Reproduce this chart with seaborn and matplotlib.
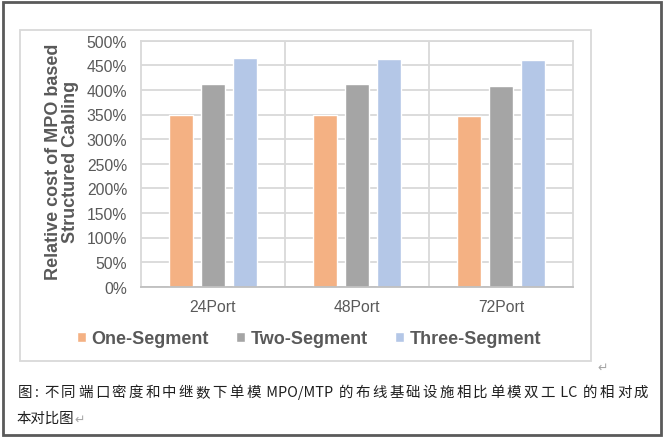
import matplotlib
matplotlib.use("Agg")
import matplotlib.pyplot as plt
from matplotlib.patches import Rectangle
from matplotlib.ticker import PercentFormatter, FixedLocator
import seaborn as sns
import pandas as pd

# ---- data ----
ports = ["24Port", "48Port", "72Port"]
segments = ["One-Segment", "Two-Segment", "Three-Segment"]
one_segment = [350, 350, 347]
two_segment = [411, 411, 408]
three_segment = [465, 462, 460]
colors = ["#F4B183", "#A5A5A5", "#B4C7E7"]
y_label = "Relative cost of MPO based\nStructured Cabling"
caption_line1 = "图: 不同端口密度和中继数下单模 MPO/MTP 的布线基础设施相比单模双工 LC 的相对成"
caption_line2 = "本对比图"

df = pd.DataFrame({
    "port": ports * 3,
    "segment": [s for s in segments for _ in ports],
    "cost": one_segment + two_segment + three_segment,
})

sns.set_theme(style="white")
plt.rcParams["font.family"] = ["Liberation Sans", "DejaVu Sans"]

W, H = 665, 439
fig = plt.figure(figsize=(W / 100, H / 100), dpi=100)

def fx(px):
    return px / W

def fy(py):
    return 1 - py / H

ax = fig.add_axes([fx(141), fy(287.7), fx(573) - fx(141), fy(41.7) - fy(287.7)])

sns.barplot(data=df, x="port", y="cost", hue="segment", hue_order=segments,
            palette=colors, width=0.667, gap=0.25, saturation=1,
            ax=ax, legend=True)

grid_c = "#D9D9D9"
tick_c = "#595959"

ax.set_ylim(0, 500)
ax.set_xlim(-0.5, 2.5)
ax.yaxis.set_major_locator(FixedLocator(list(range(0, 501, 50))))
ax.yaxis.set_major_formatter(PercentFormatter(xmax=100, decimals=0))
ax.xaxis.set_minor_locator(FixedLocator([0.5, 1.5]))
ax.grid(axis="y", which="major", color=grid_c, lw=1.3)
ax.grid(axis="x", which="minor", color=grid_c, lw=1.3)
ax.set_axisbelow(True)
for side in ["left", "right", "top"]:
    ax.spines[side].set_color(grid_c)
    ax.spines[side].set_linewidth(1.3)
ax.spines["bottom"].set_color("#BFBFBF")
ax.spines["bottom"].set_linewidth(1.3)
ax.tick_params(axis="both", which="both", length=0, labelsize=11.3, labelcolor=tick_c)
ax.tick_params(axis="y", pad=10)
ax.tick_params(axis="x", pad=9)
ax.set_xlabel("")
ax.set_ylabel(y_label, fontsize=13, fontweight="bold", color=tick_c,
              linespacing=1.05, ha="center", va="center")
ax.yaxis.set_label_coords((62 - 141) / 432, (287.7 - 161.5) / 246)

handles, labels = ax.get_legend_handles_labels()
ax.get_legend().remove()
leg = fig.legend(handles, labels, loc="center", ncol=3,
                 bbox_to_anchor=(fx(309), fy(340)), frameon=False,
                 handlelength=0.5, handleheight=0.5, handletextpad=0.3,
                 columnspacing=1.5,
                 prop={"size": 13, "weight": "bold"})
for t in leg.get_texts():
    t.set_color(tick_c)

# chart frame and page border
fig.add_artist(Rectangle((fx(20), fy(362)), fx(591) - fx(20), fy(31) - fy(362),
                         transform=fig.transFigure, fill=False,
                         edgecolor="#D9D9D9", lw=1.3))
fig.add_artist(Rectangle((fx(2.5), fy(436)), fx(660.5) - fx(2.5), fy(3) - fy(436),
                         transform=fig.transFigure, fill=False,
                         edgecolor="#5A5A5A", lw=2))

cjk = ["Noto Sans CJK SC", "DejaVu Sans"]
mark_c = "#A6A6A6"
fig.text(fx(603), fy(368), "↵", family=cjk, fontsize=9, color=mark_c,
         ha="center", va="center")

# caption, first line spread to full width
fig.canvas.draw()
renderer = fig.canvas.get_renderer()
left_px, right_px = 18, 648

tokens = []
buf = ""
for ch in caption_line1:
    if ord(ch) < 128:
        buf += ch
    else:
        if buf:
            tokens.append(buf)
            buf = ""
        tokens.append(ch)
if buf:
    tokens.append(buf)

widths = []
for tok in tokens:
    t = fig.text(0, 0, tok, family=cjk, fontsize=10.4)
    widths.append(t.get_window_extent(renderer).width)
    t.remove()
extra = (right_px - left_px - sum(widths)) / max(len(tokens) - 1, 1)
x = left_px
for tok, w in zip(tokens, widths):
    fig.text(fx(x), fy(393), tok, family=cjk, fontsize=10.4, color="#1F1F1F",
             ha="left", va="center")
    x += w + extra

t2 = fig.text(fx(16), fy(419), caption_line2, family=cjk, fontsize=10.4,
              color="#1F1F1F", ha="left", va="center")
w2 = t2.get_window_extent(renderer).width
fig.text(fx(16 + w2 + 1), fy(420), "↵", family=cjk, fontsize=9, color=mark_c,
         ha="left", va="center")

fig.savefig("out.png", dpi=100, facecolor="white")
